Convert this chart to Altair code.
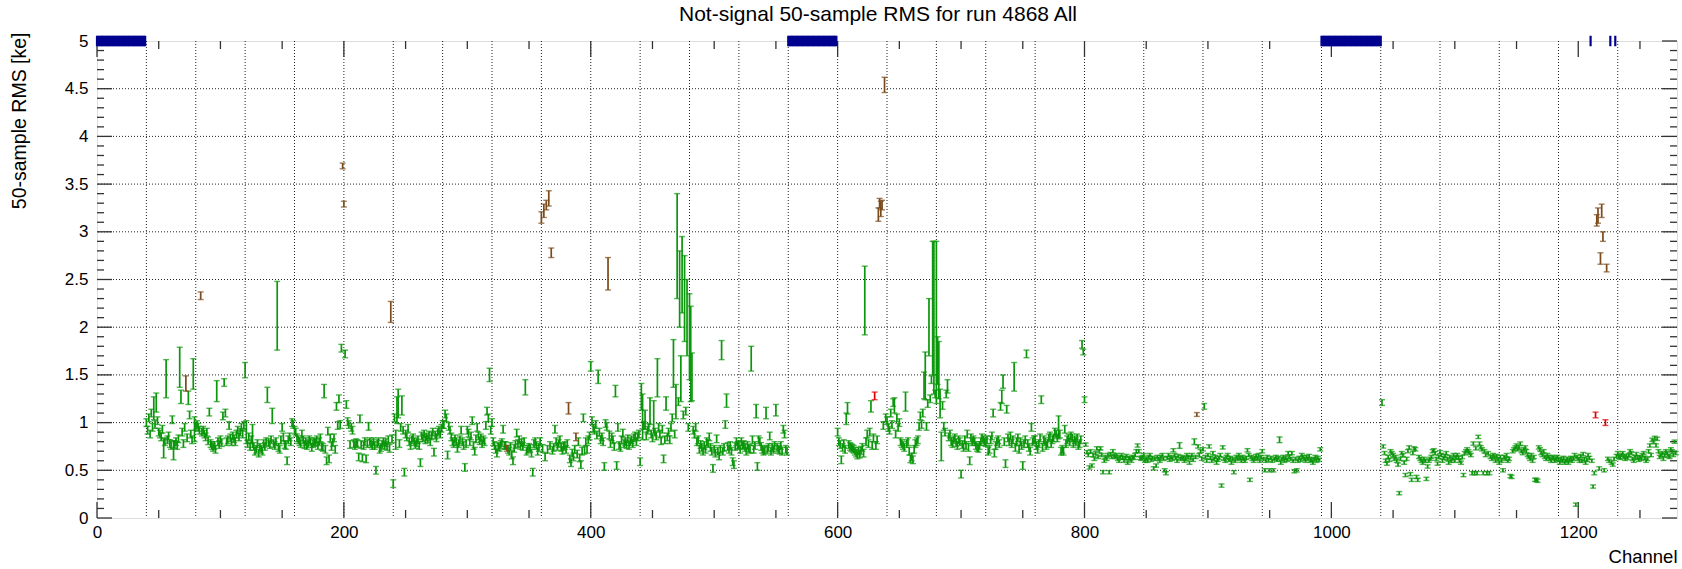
import altair as alt
import pandas as pd

FONT = "Liberation Sans"
W, H = 1580, 477

# Green channels: 50-sample RMS in hundredths of ke, one entry per channel.
# None marks a channel that is drawn in another category.
green_a_first = 40  # channels 40..559
green_a = [
    100, 92, 105, 88, 110, 95, 115, 98, 121, 102,
    90, 88, 85, 93, 73, 80, 146, 82, 86, 78,
    76, 103, 71, 77, 80, 76, 83, 158, 127, 90,
    78, 95, None, 84, 126, 108, 88, 82, 151, 93,
    96, 98, 95, 92, None, 90, 92, 88, 85, 90,
    81, 111, 78, 76, 74, 76, 72, 133, 80, 77,
    82, 79, 107, 142, 110, 80, 82, 97, 84, 80,
    86, 83, 80, 88, 92, 85, 90, 95, 88, 97,
    155, 90, 78, 85, 75, 82, 86, 75, 70, 72,
    78, 68, 74, 72, 70, 78, 75, 80, 129, 79,
    77, 82, 107, 78, 76, 80, 212, 74, 72, 82,
    95, 85, 77, 76, 60, 82, 85, 80, 100, 98,
    92, 90, 84, 82, 80, 78, 88, 82, 77, 80,
    76, 78, 82, 80, 74, 78, 80, 79, 82, 76,
    80, 84, 75, 74, 133, 72, 60, 91, 62, 84,
    75, 79, 84, 72, 117, 97, 125, 98, 178, None,
    None, 172, 119, 101, 98, 77, 95, 92, 78, 76,
    79, 78, 64, 104, 77, 63, 76, 80, 62, 78,
    96, 80, 78, 76, 80, 76, 50, 78, 80, 72,
    74, 77, 80, 76, 79, 75, 82, 73, None, 83,
    36, 105, 82, 113, 120, 78, 95, 118, 92, 48,
    88, 85, 94, 80, 76, 82, 84, 80, 77, 79,
    82, 76, 58, 86, 84, 88, 82, 85, 83, 87,
    80, 86, 90, 69, 87, 84, 90, 92, 88, 94,
    98, 98, 109, 105, 66, 96, 92, 85, 80, 78,
    83, 80, 73, 78, 82, 92, 80, 76, 53, 78,
    92, 89, 80, 86, 102, 76, 70, 83, 95, 86,
    81, 84, 78, 82, 80, 97, 112, 105, 150, 92,
    100, 80, 76, 72, 68, 75, 74, 77, 79, 93,
    76, 76, None, 72, 70, 75, 66, 60, 73, 77,
    89, 78, 82, 76, 79, 75, 80, 137, 70, 72,
    74, 73, 68, 48, 78, 80, 76, 70, 74, 80,
    None, 73, None, 64, None, 72, None, 76, None, 71,
    74, 93, 80, 75, 78, 82, 74, 71, 75, 76,
    72, 78, None, 62, 58, 68, 64, 72, None, 67,
    80, 63, 56, 70, 105, 71, 80, 72, 82, 86,
    159, 102, 94, 92, 98, 87, 148, 90, 82, 85,
    80, 54, 99, 96, None, 87, 78, 85, 82, 75,
    133, 55, 95, 76, 74, 82, 89, 78, 80, 77,
    83, 76, 80, 82, 78, 84, 86, 80, 85, 88,
    59, 127, 106, 97, 103, 86, 92, 95, 112, 88,
    84, 106, 90, 86, 147, 95, 88, 81, 93, 62,
    82, 120, 85, 90, 82, 95, 105, 162, 88, 122,
    285, 122, 240, 146, 255, 108, 230, 112, 210, 95,
    190, 172, 148, 92, 88, 95, 80, 82, 72, 77,
    74, 70, 76, 72, 80, 78, 85, 74, 70, 52,
    72, 68, 83, 70, 65, 72, 176, 70, 74, 98,
    123, 75, 72, 76, 70, 59, 56, 75, 80, 76,
    77, 72, 80, 76, 77, 74, 70, 76, 73, 72,
    167, 82, 72, 76, 112, 54, 82, 80, 75, 72,
    70, 71, 110, 72, 74, 86, 70, 74, 72, 76,
    113, 74, 72, 71, 76, 70, 93, 88, 72, 70,
]

green_b_first = 600  # channels 600..991
green_b = [
    90, 80, 77, 61, 74, 78, 72, 104, 115, 77,
    75, 74, 73, 72, 70, 68, 66, 70, 67, 71,
    74, 68, 228, 80, 88, 78, 90, 117, 76, 84,
    None, 76, 82, None, None, None, None, 97, None, 105,
    102, 95, 92, 110, 98, 121, 118, 88, 105, 95,
    100, 80, 78, 76, 74, 122, 78, 80, 70, 62,
    64, 61, 72, 78, 80, 82, 96, 107, 98, 110,
    139, 149, 96, 120, 200, 125, 145, 220, 210, 130,
    205, 165, 155, 120, 75, 118, 96, 90, 130, 138,
    85, 88, 80, 78, 82, 84, 79, 76, 82, 80,
    46, 77, 74, 82, 76, 88, 74, 60, 84, 80,
    82, 80, 76, 74, 73, 76, 80, 84, 82, 80,
    79, 82, 70, 72, 82, 86, 110, 68, 76, 80,
    82, 78, 117, 127, 143, 80, 57, 114, 84, 80,
    86, 78, 82, 148, 74, 80, 84, 72, 80, 76,
    55, 78, 82, 172, 78, 74, 70, 95, 80, 82,
    82, 76, 72, 78, 84, 124, 74, 82, 80, 76,
    78, 84, 86, 78, 82, 84, 90, 88, 84, 95,
    88, 70, 72, 70, 93, 78, 82, 84, 80, 86,
    84, 78, 82, 80, 84, 76, 78, 82, 182, 174,
    124, 77, 69, 66, 53, 70, 55, 66, 62, 68,
    73, 64, 70, 73, 66, 48, 60, 64, 62, 66,
    48, 67, 64, 70, 65, 64, 66, 62, 60, 64,
    66, 63, 60, 63, 65, 58, 63, 62, 60, 64,
    63, 66, 70, 76, 70, 63, 62, 64, 66, 60,
    62, 60, 64, 66, 61, 63, 52, 62, 55, 64,
    62, 60, 64, 66, 62, 50, 47, 63, 66, 61,
    64, 62, 71, 66, 63, 60, 65, 76, 62, 64,
    63, 60, 62, 66, 64, 58, 63, 66, 61, 80,
    64, None, 75, 66, 70, 62, 72, 117, 64, 60,
    66, 75, 63, 60, 68, 62, 64, 58, 61, 63,
    66, 34, 74, 62, 60, 64, 66, 61, 63, 58,
    62, 48, 60, 64, 62, 66, 63, 60, 64, 62,
    60, 63, 71, 66, 40, 64, 62, 60, 63, 65,
    62, 66, 60, 64, 70, 62, 50, 60, 64, 61,
    50, 63, 60, 50, 62, 64, 61, 63, 82, 58,
    62, 64, 60, 63, 61, 68, 64, 62, 68, 60,
    49, 62, 50, 60, 63, 61, 66, 64, 62, 60,
    64, 62, 65, 60, 61, 58, 62, 64, 60, 63,
    61, 72,
]

green_c_first = 1041  # channels 1041..1279
green_c = [
    121, 75, 68, 60, 57, 64, 61, 70, 68,
    66, 62, 64, 60, 56, 26, 62, 68, 66, 58,
    45, 62, 70, 74, 46, 40, 68, 73, 72, 43,
    40, 64, 62, 60, 58, 62, 60, 41, 54, 60,
    62, 64, 70, 71, 68, 62, 57, 64, 69, 66,
    60, 63, 65, 68, 62, 58, 64, 60, 62, 66,
    60, 64, 66, 63, 60, 58, 64, 45, 68, 70,
    72, 70, 68, 66, 47, 78, 47, 73, 47, 85,
    78, 74, 72, 47, 70, 66, 47, 68, 47, 64,
    62, 66, 64, 60, 65, 62, 58, 64, 60, 50,
    64, 62, 66, 60, 62, 44, 43, 70, 72, 74,
    76, 72, 74, 78, 70, 68, 72, 74, 70, 66,
    64, 62, 66, 60, 64, 40, 40, 39, 74, 72,
    68, 66, 70, 64, 62, 66, 64, 62, 60, 64,
    63, 60, 62, 64, 61, 58, 62, 60, 63, 58,
    60, 62, 58, 61, 63, 60, 62, 66, 14, 64,
    62, 60, 65, 60, 67, 62, 58, 61, 66, 63,
    None, 60, 33, 47, None, None, None, 52, None, None,
    None, 50, None, None, 62, 60, None, 58, 56, 62,
    None, 65, 68, 64, 63, 66, 68, 64, 62, 65,
    63, 66, 70, 68, 62, 60, 64, 67, 63, 61,
    64, 62, 66, 68, 63, 60, 62, 70, 76, 66,
    82, 80, 84, 76, 83, 70, 64, 66, 68, 62,
    66, 70, 68, 65, 64, 72, 70, 66, 80, 68,
]

# Half-widths of the RMS uncertainty, hundredths of ke
induction_err = 4.0     # channels below 800
collection_err = 1.7    # channels 800 and up
green_err = {
    46: 12, 48: 10, 54: 10, 56: 20, 62: 10, 67: 21, 68: 7, 74: 7, 78: 16, 79: 13,
    97: 11, 120: 8, 121: 12, 126: 12, 138: 8, 142: 8, 146: 36, 184: 7,
    242: 10, 243: 14, 244: 15, 247: 10, 318: 7, 347: 8, 400: 5, 406: 7, 420: 6,
    441: 14, 442: 24, 444: 10, 448: 14, 451: 17, 454: 20, 461: 7, 467: 25,
    469: 18, 470: 55, 472: 40, 473: 24, 474: 40, 476: 45, 478: 40, 480: 45,
    481: 50, 482: 25, 506: 10, 510: 7, 530: 13, 534: 7, 542: 6, 550: 6,
    607: 6, 608: 6, 622: 36, 627: 6, 646: 8, 655: 10, 670: 14, 671: 25,
    674: 30, 677: 70, 678: 80, 680: 85, 681: 25, 682: 30, 683: 15, 684: 15,
    689: 7, 733: 7, 734: 7, 743: 15, 779: 12, 798: 4, 799: 3, 800: 3,
    877: 3, 889: 3, 897: 3, 958: 3, 1041: 3,
}

# Channels flagged noisy (brown)
brown_ch = [72, 84, 199, 200, 238, 332, 360, 362, 364, 366, 368, 382, 388, 414,
            633, 634, 635, 636, 638, 891, 1215, 1216, 1218, 1219, 1220, 1223]
brown_val = [1.41, 2.33, 3.69, 3.29, 2.16, 0.73, 3.15, 3.22, 3.28, 3.35, 2.78, 1.15, 0.85, 2.56,
             3.18, 3.30, 3.24, 3.28, 4.54, 1.085, 3.12, 3.17, 2.72, 3.22, 2.95, 2.62]
brown_err = [0.08, 0.04, 0.03, 0.03, 0.11, 0.03, 0.06, 0.07, 0.05, 0.08, 0.05, 0.06, 0.04, 0.17,
             0.07, 0.05, 0.08, 0.05, 0.08, 0.02, 0.06, 0.08, 0.06, 0.07, 0.05, 0.04]

# Channels flagged red
red_ch = [630, 1214, 1222]
red_val = [1.28, 1.08, 1.00]
red_err = [0.04, 0.03, 0.03]

# Bad channels, drawn at the top edge (inclusive channel ranges)
bad_ranges = [(0, 39), (560, 599), (992, 1040), (1210, 1210), (1226, 1226), (1230, 1230)]

# Axis decorations
x_labels = [0, 200, 400, 600, 800, 1000, 1200]
x_minor = [50, 100, 150, 250, 300, 350, 450, 500, 550, 650, 700, 750,
           850, 900, 950, 1050, 1100, 1150, 1250]
x_grid = [40, 80, 120, 160, 200, 240, 280, 320, 360, 400, 440, 480, 520, 560, 600,
          640, 680, 720, 760, 800, 848, 896, 944, 992, 1040, 1088, 1136, 1184, 1232]
y_labels = [0, 0.5, 1, 1.5, 2, 2.5, 3, 3.5, 4, 4.5, 5]
y_minor = [round(0.1 * i, 1) for i in range(1, 50) if i % 5 != 0]
y_grid = [0.5, 1, 1.5, 2, 2.5, 3, 3.5, 4, 4.5]

GREEN = "#0b960b"
BROWN = "#7b4a1c"
RED = "#dd0000"
BLUE = "#00008f"


def green_frame():
    rows = []
    for first, vals in [(green_a_first, green_a), (green_b_first, green_b), (green_c_first, green_c)]:
        for i, v in enumerate(vals):
            if v is None:
                continue
            ch = first + i
            e = green_err.get(ch, induction_err if ch < 800 else collection_err)
            rows.append({"ch": ch, "lo": (v - e) / 100, "hi": (v + e) / 100})
    return pd.DataFrame(rows)


def flagged_frame(chs, vals, errs):
    return pd.DataFrame({"ch": chs,
                         "lo": [v - e for v, e in zip(vals, errs)],
                         "hi": [v + e for v, e in zip(vals, errs)]})


xs = alt.Scale(domain=[0, 1280], nice=False, zero=False)
ys = alt.Scale(domain=[0, 5], nice=False, zero=False)

x_axis = alt.Axis(values=x_labels, format="d", ticks=False, domain=False, grid=False,
                  labelFont=FONT, labelFontSize=17, labelColor="black",
                  labelPadding=6, labelFlush=False, labelOverlap=False,
                  title="Channel", titleFont=FONT, titleFontSize=18.5, titleFontWeight="normal",
                  titleColor="black", titleX=W, titleY=44, titleAlign="right",
                  titleBaseline="alphabetic")
y_axis = alt.Axis(values=y_labels, format="~g", ticks=False, domain=False, grid=False,
                  labelFont=FONT, labelFontSize=17, labelColor="black",
                  labelPadding=9, labelFlush=False, labelOverlap=False,
                  title="50-sample RMS [ke]", titleFont=FONT, titleFontSize=19.5,
                  titleFontWeight="normal", titleColor="black", titleAngle=270,
                  titleX=-78, titleY=-9, titleAlign="right", titleBaseline="middle")


def X(field="ch"):
    return alt.X(f"{field}:Q", scale=xs, axis=x_axis)


def Y(field):
    return alt.Y(f"{field}:Q", scale=ys, axis=y_axis)


def errorbars(df, color):
    base = alt.Chart(df)
    rule = base.mark_rule(color=color, strokeWidth=1.7).encode(x=X(), y=Y("lo"), y2="hi:Q")
    cap_lo = base.mark_tick(color=color, orient="horizontal", size=6, thickness=1.4).encode(x=X(), y=Y("lo"))
    cap_hi = base.mark_tick(color=color, orient="horizontal", size=6, thickness=1.4).encode(x=X(), y=Y("hi"))
    return rule + cap_lo + cap_hi


grid_style = dict(color="#222222", strokeWidth=1, strokeDash=[1, 2])

vgrid = alt.Chart(pd.DataFrame({"ch": x_grid})).mark_rule(**grid_style).encode(x=X())
hgrid = alt.Chart(pd.DataFrame({"v": y_grid})).mark_rule(**grid_style).encode(y=Y("v"))

tick_color = "#333333"
xmaj = pd.DataFrame({"ch": x_labels})
xmin = pd.DataFrame({"ch": x_minor})
ymaj = pd.DataFrame({"v": y_labels})
ymin = pd.DataFrame({"v": y_minor})


def hticks(df, y0, y1):
    return alt.Chart(df).mark_rule(color=tick_color, strokeWidth=1.3).encode(
        x=X(), y=alt.value(y0), y2=alt.value(y1))


def vticks(df, x0, x1):
    return alt.Chart(df).mark_rule(color=tick_color, strokeWidth=1.3).encode(
        y=Y("v"), x=alt.value(x0), x2=alt.value(x1))


bad_rows = [{"ch": c, "lo": 4.945, "hi": 5.055}
            for start, end in bad_ranges for c in range(start, end + 1)]
bad = alt.Chart(pd.DataFrame(bad_rows)).mark_rule(color=BLUE, strokeWidth=2.2).encode(
    x=X(), y=Y("lo"), y2="hi:Q")

chart = alt.layer(
    vgrid, hgrid,
    hticks(xmaj, H, H - 16), hticks(xmin, H, H - 8),
    hticks(xmaj, 0, 16), hticks(xmin, 0, 8),
    vticks(ymaj, 0, 15), vticks(ymin, 0, 7),
    vticks(ymaj, W, W - 15), vticks(ymin, W, W - 7),
    errorbars(green_frame(), GREEN),
    errorbars(flagged_frame(brown_ch, brown_val, brown_err), BROWN),
    errorbars(flagged_frame(red_ch, red_val, red_err), RED),
    bad,
).properties(
    width=W, height=H,
    title=alt.TitleParams("Not-signal 50-sample RMS for run 4868 All", font=FONT,
                          fontSize=21, fontWeight="normal", color="black",
                          anchor="middle", frame="group", offset=7, dx=-9),
    padding={"left": 97, "top": 41, "right": 5, "bottom": 51},
    autosize=alt.AutoSizeParams(type="none"),
).configure_view(stroke="#222222", strokeWidth=1.3).configure(background="white")

chart.save("out.html", embed_options={"renderer": "svg", "actions": False})
